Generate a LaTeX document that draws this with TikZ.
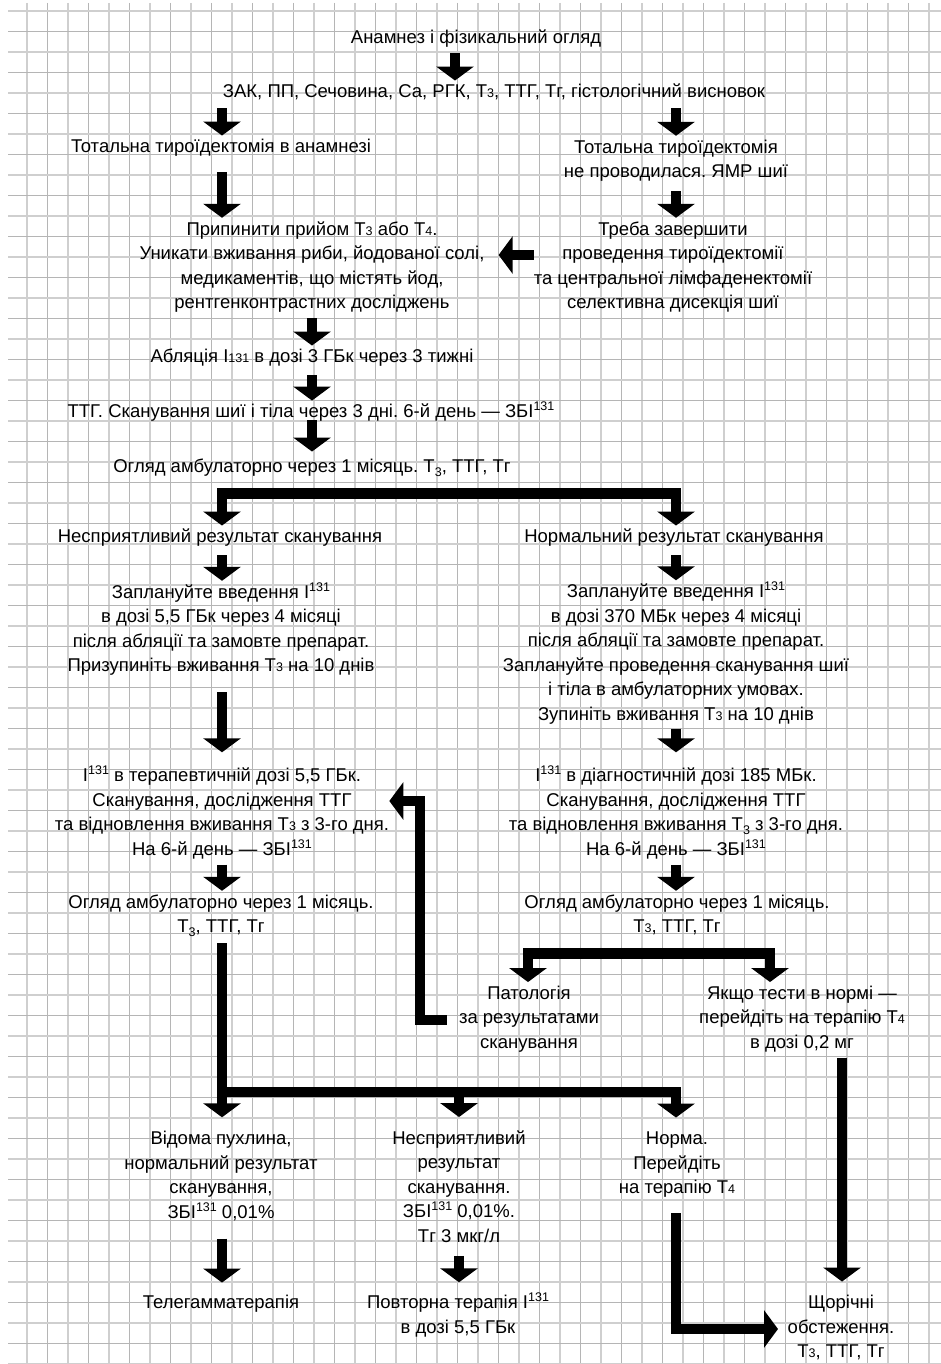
\documentclass[tikz,border=0pt]{standalone}
\usepackage{fontspec}
\setmainfont{Liberation Sans}
\usetikzlibrary{arrows.meta}
\newcommand\smd[1]{{\fontsize{12.5}{12.5}\selectfont #1}}
\newcommand\subd[1]{\raisebox{-3.5pt}{\fontsize{12.5}{12.5}\selectfont #1}}
\newcommand\supd[1]{\raisebox{7pt}{\fontsize{12.5}{12.5}\selectfont #1}}
\newcommand\nl{\\\strut}
\tikzset{
  txt/.style={inner sep=0pt, align=center, font=\fontsize{18.5}{24.5}\selectfont\frenchspacing},
  gdark/.style={draw=black!29, line width=1.6pt},
  glight/.style={draw=black!19, line width=2pt},
  arr/.style={line width=10.5pt, line join=miter, -{Triangle[width=37pt,length=14pt]}},
  arrtwo/.style={line width=10.5pt, line join=miter, {Triangle[width=37pt,length=14pt]}-{Triangle[width=37pt,length=14pt]}},
}
\begin{document}
\begin{tikzpicture}[x=1pt,y=-1pt]
\useasboundingbox (0,0) rectangle (941,1364);
\fill[white] (0,0) rectangle (941,1364);
% grid
\foreach \k in {0,...,44}{\pgfmathsetmacro\xx{27+20.5*\k}\ifodd\k\relax\draw[gdark] (\xx,3) -- (\xx,1364);\else\draw[glight] (\xx,3) -- (\xx,1364);\fi}
\foreach \k in {0,...,66}{\pgfmathsetmacro\yy{11+20.5*\k}\ifodd\k\relax\draw[gdark] (8,\yy) -- (941,\yy);\else\draw[glight] (8,\yy) -- (941,\yy);\fi}
% helper coordinates
\coordinate (xA) at (455,0);
\coordinate (xL) at (222,0);
\coordinate (xR) at (676,0);
\coordinate (xM) at (312,0);
\coordinate (xC) at (459,0);
\coordinate (xQ) at (528,0);
\coordinate (xY) at (770,0);
\coordinate (xZ) at (842,0);
\coordinate (xB) at (420,0);
\coordinate (xT) at (778,0);
\coordinate (yH) at (0,255);
\coordinate (yB1) at (0,493.5);
\coordinate (yB2) at (0,953.5);
\coordinate (yB3) at (0,1092);
\coordinate (yK1) at (0,1020);
\coordinate (yK2) at (0,801);
\coordinate (yN) at (0,1329);
% nodes
\node[txt] (n1) at (476,39) {\strut Анамнез і фізикальний огляд};
\node[txt] (n2) at (494,93) {\strut ЗАК, ПП, Сечовина, Са, РГК, Т\smd{3}, ТТГ, Тг, гістологічний висновок};
\node[txt] (n3) at (221,148) {\strut Тотальна тироїдектомія в анамнезі};
\node[txt] (n4) at (676,160.5) {\strut Тотальна тироїдектомія\nl не проводилася. ЯМР шиї};
\node[txt] (n5) at (312,267) {\strut Припинити прийом Т\smd{3} або Т\smd{4}.\nl Уникати вживання риби, йодованої солі,\nl медикаментів, що містять йод,\nl рентгенконтрастних досліджень};
\node[txt] (n6) at (673,267) {\strut Треба завершити\nl проведення тироїдектомії\nl та центральної лімфаденектомії\nl селективна дисекція шиї};
\node[txt] (n7) at (312,358) {\strut Абляція I\smd{131} в дозі 3 ГБк через 3 тижні};
\node[txt] (n8) at (311,413) {\strut ТТГ. Сканування шиї і тіла через 3 дні. 6-й день — ЗБІ\supd{131}};
\node[txt] (n9) at (312,468) {\strut Огляд амбулаторно через 1 місяць. Т\subd{3}, ТТГ, Тг};
\node[txt] (n10) at (220,538) {\strut Несприятливий результат сканування};
\node[txt] (n11) at (674,538) {\strut Нормальний результат сканування};
\node[txt] (n12) at (221,630) {\strut Заплануйте введення I\supd{131}\nl в дозі 5,5 ГБк через 4 місяці\nl після абляції та замовте препарат.\nl Призупиніть вживання Т\smd{3} на 10 днів};
\node[txt] (n13) at (676,654) {\strut Заплануйте введення I\supd{131}\nl в дозі 370 МБк через 4 місяці\nl після абляції та замовте препарат.\nl Заплануйте проведення сканування шиї\nl і тіла в амбулаторних умовах.\nl Зупиніть вживання Т\smd{3} на 10 днів};
\node[txt] (n14) at (222,813.5) {\strut I\supd{131} в терапевтичній дозі 5,5 ГБк.\nl Сканування, дослідження ТТГ\nl та відновлення вживання Т\smd{3} з 3-го дня.\nl На 6-й день — ЗБІ\supd{131}};
\node[txt] (n15) at (676,813.5) {\strut I\supd{131} в діагностичній дозі 185 МБк.\nl Сканування, дослідження ТТГ\nl та відновлення вживання Т\subd{3} з 3-го дня.\nl На 6-й день — ЗБІ\supd{131}};
\node[txt] (n16) at (221,915.5) {\strut Огляд амбулаторно через 1 місяць.\nl Т\subd{3}, ТТГ, Тг};
\node[txt] (n17) at (677,915.5) {\strut Огляд амбулаторно через 1 місяць.\nl Т\smd{3}, ТТГ, Тг};
\node[txt] (n18) at (529,1019) {\strut Патологія\nl за результатами\nl сканування};
\node[txt] (n19) at (802,1019) {\strut Якщо тести в нормі —\nl перейдіть на терапію Т\smd{4}\nl в дозі 0,2 мг};
\node[txt] (n20) at (221,1176.5) {\strut Відома пухлина,\nl нормальний результат\nl сканування,\nl ЗБІ\supd{131} 0,01\%};
\node[txt] (n21) at (459,1188.5) {\strut Несприятливий\nl результат\nl сканування.\nl ЗБІ\supd{131} 0,01\%.\nl Тг 3 мкг/л};
\node[txt] (n22) at (677,1164.5) {\strut Норма.\nl Перейдіть\nl на терапію Т\smd{4}};
\node[txt] (n23) at (221,1304) {\strut Телегамматерапія};
\node[txt] (n24) at (458,1316) {\strut Повторна терапія I\supd{131}\nl в дозі 5,5 ГБк};
\node[txt] (n25) at (841,1328.5) {\strut Щорічні\nl обстеження.\nl Т\smd{3}, ТТГ, Тг};
% connectors
\draw[arr, shorten <=2pt] (n1.south -| xA) -- (n2.north -| xA);
\draw[arr, shorten <=3pt] (n2.south -| xL) -- (n3.north -| xL);
\draw[arr, shorten <=3pt] (n2.south -| xR) -- (n4.north -| xR);
\draw[arr, shorten <=12pt] (n3.south -| xL) -- (n5.north -| xL);
\draw[arr, shorten <=6pt] (n4.south -| xR) -- (n6.north -| xR);
\draw[arr, shorten >=14pt] (n6.west |- yH) -- (n5.east |- yH);
\draw[arr, shorten <=2pt] (n5.south -| xM) -- (n7.north -| xM);
\draw[arr, shorten <=5pt] (n7.south -| xM) -- (n8.north -| xM);
\draw[arr, shorten <=-5pt, shorten >=4pt] (n8.south -| xM) -- (n9.north -| xM);
\draw[arrtwo] (n10.north -| xL) -- (xL |- yB1) -- (xR |- yB1) -- (n11.north -| xR);
\draw[arr, shorten <=5pt] (n10.south -| xL) -- (n12.north -| xL);
\draw[arr, shorten <=5pt] (n11.south -| xR) -- (n13.north -| xR);
\draw[arr, shorten <=13pt, shorten >=12pt] (n12.south -| xL) -- (n14.north -| xL);
\draw[arr, shorten <=1pt, shorten >=12pt] (n13.south -| xR) -- (n15.north -| xR);
\draw[arr, shorten <=2pt] (n14.south -| xL) -- (n16.north -| xL);
\draw[arr, shorten <=2pt] (n15.south -| xR) -- (n17.north -| xR);
\draw[arrtwo] (n18.north -| xQ) -- (xQ |- yB2) -- (xY |- yB2) -- (n19.north -| xY);
\draw[arr, shorten <=12pt] (n18.west |- yK1) -- (xB |- yK1) -- (xB |- yK2) -- (n14.east |- yK2);
\draw[arr, shorten <=2pt, shorten >=10pt] (n19.south -| xZ) -- (n25.north -| xZ);
\draw[arr, shorten <=3pt, shorten >=10pt] (n16.south -| xL) -- (n20.north -| xL);
\draw[arr, shorten >=10pt] (xL |- yB3) -- (xR |- yB3) -- (n22.north -| xR);
\draw[arr, shorten >=10pt] (xC |- yB3) -- (n21.north -| xC);
\draw[arr, shorten <=13pt, shorten >=9pt] (n20.south -| xL) -- (n23.north -| xL);
\draw[arr, shorten <=6pt, shorten >=9pt] (n21.south -| xC) -- (n24.north -| xC);
\draw[arr, shorten <=12pt] (n22.south -| xR) -- (xR |- yN) -- (xT |- yN);
\end{tikzpicture}
\end{document}
